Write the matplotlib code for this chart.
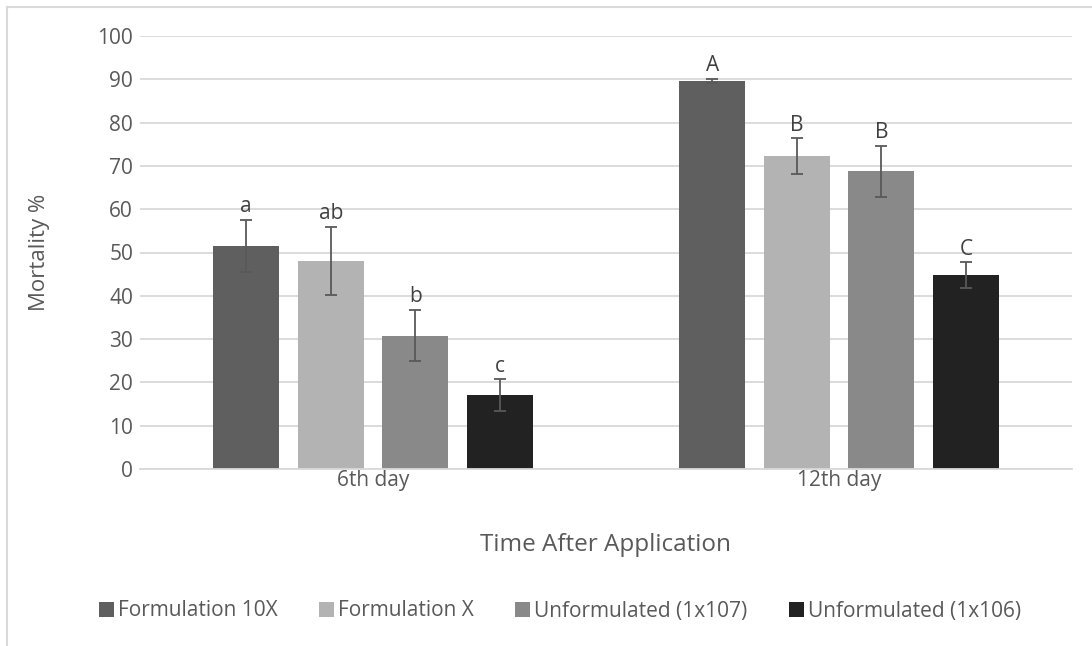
import numpy as np
import matplotlib
matplotlib.use("Agg")
from matplotlib import pyplot as plt
from matplotlib.lines import Line2D

plt.rcParams['font.family'] = ['Open Sans', 'DejaVu Sans']

days = ['6th day', '12th day']
treatments = ['Formulation 10X', 'Formulation X',
              'Unformulated (1x107)', 'Unformulated (1x106)']
colors = ['#5f5f5f', '#b3b3b3', '#898989', '#222222']

# mortality means per treatment, one value per day
mortality = [
    [51.5, 89.6],
    [48.0, 72.3],
    [30.8, 68.8],
    [17.0, 44.7],
]
errors = [
    [6.0, 0.5],
    [7.9, 4.1],
    [5.9, 5.9],
    [3.7, 3.0],
]
letters = [
    ['a', 'A'],
    ['ab', 'B'],
    ['b', 'B'],
    ['c', 'C'],
]

text_color = '#595959'
grid_color = '#d9d9d9'

fig = plt.figure(figsize=(10.92, 6.46), dpi=100)
ax = fig.add_axes([140/1092, 1 - 469/646, 932/1092, 433/646])

x = np.arange(len(days))
width = 0.142
step = 0.1815
for i, name in enumerate(treatments):
    pos = x + (i - 1.5) * step
    ax.bar(pos, mortality[i], width, color=colors[i], label=name, zorder=2)
    ax.errorbar(pos, mortality[i], yerr=errors[i], fmt='none',
                ecolor=text_color, elinewidth=1.3, capsize=4.3,
                capthick=1.3, zorder=3)
    for p, v, e, t in zip(pos, mortality[i], errors[i], letters[i]):
        ax.text(p, v + e + 0.6, t, ha='center', va='bottom',
                fontsize=15, color='#404040', zorder=4)

ax.set_xlim(-0.5, 1.5)
ax.set_ylim(0, 100)
ax.set_yticks(range(0, 101, 10))
ax.set_xticks(x)
ax.set_xticklabels(days)
ax.yaxis.grid(True, color=grid_color, linewidth=1.3, zorder=0)
ax.set_axisbelow(True)
for s in ['top', 'right', 'left']:
    ax.spines[s].set_visible(False)
ax.spines['bottom'].set_color(grid_color)
ax.spines['bottom'].set_linewidth(1.3)
ax.tick_params(axis='both', length=0, labelsize=15, labelcolor=text_color)
ax.tick_params(axis='y', pad=5)
ax.tick_params(axis='x', pad=1)
ax.set_ylabel('Mortality %', fontsize=16, color=text_color, labelpad=34)
ax.set_xlabel('Time After Application', fontsize=17.5, color=text_color,
              labelpad=30)

fig.legend(loc='center', bbox_to_anchor=(560/1092, 1 - 611/646), ncol=4,
           frameon=False, fontsize=15, labelcolor=text_color,
           handlelength=0.7, handleheight=0.7, handletextpad=0.2,
           columnspacing=2.0)

# outer chart frame
fig.add_artist(Line2D([6.5/1092, 6.5/1092], [0, 1 - 6.5/646],
                      transform=fig.transFigure, color=grid_color, lw=1.5))
fig.add_artist(Line2D([6.5/1092, 1], [1 - 6.5/646, 1 - 6.5/646],
                      transform=fig.transFigure, color=grid_color, lw=1.5))

fig.savefig('out.png', dpi=100, facecolor='white')
